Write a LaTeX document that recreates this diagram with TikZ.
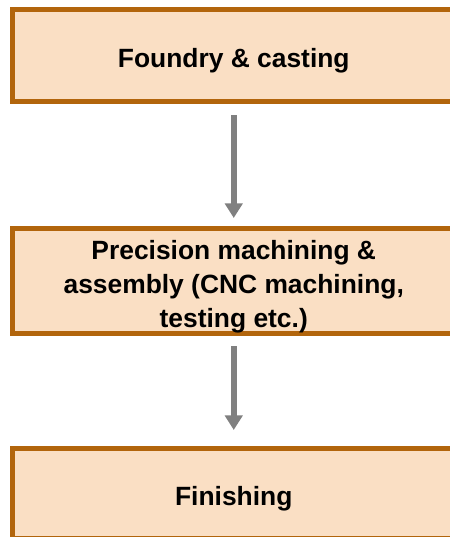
\documentclass[tikz,border=0pt]{standalone}
\usepackage{fontspec}
\setmainfont{Liberation Sans}
\usetikzlibrary{arrows.meta}
\definecolor{boxfill}{RGB}{250,223,196}
\definecolor{boxline}{RGB}{178,101,12}
\definecolor{arrowgray}{RGB}{128,128,128}
\begin{document}
\begin{tikzpicture}[x=0.75pt,y=-0.75pt,
  stepbox/.style={draw=boxline,fill=boxfill,line width=3.75pt,outer sep=0pt,inner sep=0pt,
    minimum width=331.875pt},
  steptext/.style={align=center,inner sep=0pt,yshift=-4pt,font=\bfseries\fontsize{19.8}{25.5}\selectfont},
  flowarrow/.style={draw=arrowgray,line width=4.5pt,-{Triangle[width=13pt,length=11pt]}}]
\useasboundingbox (0,0) rectangle (450,537);
\clip (0,0) rectangle (450,537);
\node[stepbox,minimum height=69.375pt,label={[steptext]center:{Foundry \& casting}}] (a) at (233.75,55.25) {};
\node[stepbox,minimum height=78.75pt,label={[steptext]center:{Precision machining \&\\assembly (CNC machining,\\testing etc.)}}] (b) at (233.75,281) {};
\node[stepbox,minimum height=67.5pt,label={[steptext]center:{Finishing}}] (c) at (233.75,493) {};
\draw[flowarrow,shorten <=10.125pt,shorten >=7.875pt] (a.south) -- (b.north);
\draw[flowarrow,shorten <=9.4pt,shorten >=13.5pt] (b.south) -- (c.north);
\end{tikzpicture}
\end{document}
